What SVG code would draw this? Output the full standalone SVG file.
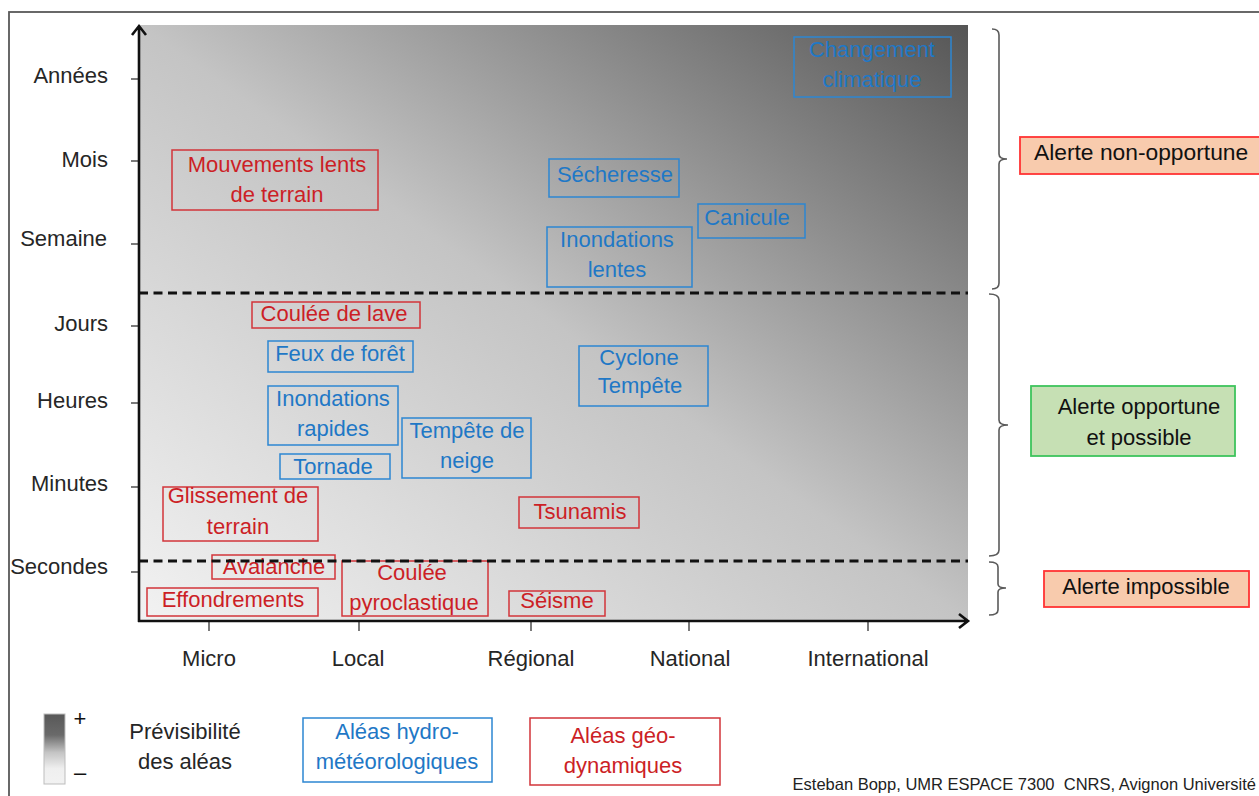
<svg xmlns="http://www.w3.org/2000/svg" width="1259" height="796" viewBox="0 0 1259 796">
<defs>
<linearGradient id="bg" x1="0" y1="1" x2="1" y2="0">
<stop offset="0" stop-color="#f2f2f2"/>
<stop offset="0.5" stop-color="#c4c4c4"/>
<stop offset="1" stop-color="#555555"/>
</linearGradient>
<linearGradient id="leg" x1="0" y1="0" x2="0" y2="1">
<stop offset="0" stop-color="#585858"/>
<stop offset="0.3" stop-color="#6a6a6a"/>
<stop offset="0.55" stop-color="#c4c4c4"/>
<stop offset="0.78" stop-color="#efefef"/>
<stop offset="1" stop-color="#f2f2f2"/>
</linearGradient>
<style>
text{font-family:"Liberation Sans",Arial,sans-serif;font-size:22px;fill:#262626}
.c{text-anchor:middle}
.e{text-anchor:end}
.geo rect{fill:none;stroke:#d2343a;stroke-width:1.5}
.geo text{fill:#cc1f26;text-anchor:middle}
.hyd rect{fill:none;stroke:#2c86d2;stroke-width:1.5}
.hyd text{fill:#1f78c6;text-anchor:middle}
.tick{stroke:#333;stroke-width:1.3}
.axis{stroke:#111;stroke-width:2.6;fill:none}
.dash{stroke:#111;stroke-width:3;stroke-dasharray:9 5.5}
.brace{fill:none;stroke:#5a5a5a;stroke-width:1.6}
.alr rect{fill:#f8cbad;stroke:#ff3333;stroke-width:1.8}
.alg rect{fill:#c6e0b4;stroke:#3ec45c;stroke-width:1.8}
.alr text,.alg text{fill:#111;text-anchor:middle}
</style>
</defs>
<rect x="0" y="0" width="1259" height="796" fill="#fff"/>
<rect x="9" y="12" width="1300" height="820" fill="none" stroke="#595959" stroke-width="1.8"/>
<rect id="plot" x="140" y="25" width="828" height="596" fill="url(#bg)"/>

<g id="axes">
<g class="tick">
<line x1="131" y1="79" x2="139" y2="79"/><line x1="131" y1="161" x2="139" y2="161"/><line x1="131" y1="244" x2="139" y2="244"/><line x1="131" y1="326" x2="139" y2="326"/><line x1="131" y1="403" x2="139" y2="403"/><line x1="131" y1="487" x2="139" y2="487"/><line x1="131" y1="572" x2="139" y2="572"/>
<line x1="209" y1="621" x2="209" y2="631"/><line x1="359" y1="621" x2="359" y2="631"/><line x1="531" y1="621" x2="531" y2="631"/><line x1="689" y1="621" x2="689" y2="631"/><line x1="868" y1="621" x2="868" y2="631"/>
</g>
<path class="axis" d="M139,622 L139,27 M132,35 L139,26 L146,35"/>
<path class="axis" d="M138,621 L967,621 M959,614 L968,621 L959,628"/>
<g class="e">
<text x="108" y="83">Années</text>
<text x="108" y="167">Mois</text>
<text x="107" y="246">Semaine</text>
<text x="108" y="331">Jours</text>
<text x="108" y="408">Heures</text>
<text x="108" y="491">Minutes</text>
<text x="108" y="574">Secondes</text>
</g>
<g class="c">
<text x="209" y="666">Micro</text>
<text x="358" y="666">Local</text>
<text x="531" y="666">Régional</text>
<text x="690" y="666">National</text>
<text x="868" y="666">International</text>
</g>
</g>

<g id="n-mouvements" class="geo"><rect x="172" y="150" width="206" height="60"/><text x="277" y="172">Mouvements lents</text><text x="277" y="202">de terrain</text></g>
<g id="n-secheresse" class="hyd"><rect x="549" y="159" width="130" height="38"/><text x="615" y="182">Sécheresse</text></g>
<g id="n-canicule" class="hyd"><rect x="698" y="204" width="107" height="34"/><text x="747" y="225">Canicule</text></g>
<g id="n-inond-lentes" class="hyd"><rect x="547" y="227" width="145" height="60"/><text x="617" y="247">Inondations</text><text x="617" y="277">lentes</text></g>
<g id="n-changement" class="hyd"><rect x="794" y="37" width="157" height="60"/><text x="872" y="57">Changement</text><text x="872" y="87">climatique</text></g>
<g id="n-lave" class="geo"><rect x="252" y="302" width="168" height="26"/><text x="334" y="321">Coulée de lave</text></g>
<g id="n-feux" class="hyd"><rect x="268" y="341" width="145" height="31"/><text x="340" y="361">Feux de forêt</text></g>
<g id="n-inond-rapides" class="hyd"><rect x="268" y="386" width="130" height="59"/><text x="333" y="406">Inondations</text><text x="333" y="436">rapides</text></g>
<g id="n-tornade" class="hyd"><rect x="280" y="454" width="110" height="25"/><text x="333" y="474">Tornade</text></g>
<g id="n-tempete-neige" class="hyd"><rect x="402" y="418" width="129" height="60"/><text x="467" y="438">Tempête de</text><text x="467" y="468">neige</text></g>
<g id="n-cyclone" class="hyd"><rect x="579" y="346" width="129" height="60"/><text x="639" y="365">Cyclone</text><text x="640" y="393">Tempête</text></g>
<g id="n-glissement" class="geo"><rect x="163" y="487" width="155" height="54"/><text x="238" y="503">Glissement de</text><text x="238" y="534">terrain</text></g>
<g id="n-tsunamis" class="geo"><rect x="519" y="497" width="120" height="31"/><text x="580" y="519">Tsunamis</text></g>
<g id="n-avalanche" class="geo"><rect x="212" y="555" width="123" height="24"/><text x="274" y="574">Avalanche</text></g>
<g id="n-effondrements" class="geo"><rect x="147" y="588" width="171" height="28"/><text x="233" y="607">Effondrements</text></g>
<g id="n-pyroclastique" class="geo"><rect x="342" y="561" width="146" height="55"/><text x="412" y="580">Coulée</text><text x="414" y="610">pyroclastique</text></g>
<g id="n-seisme" class="geo"><rect x="509" y="591" width="96" height="25"/><text x="557" y="608">Séisme</text></g>

<g id="thresholds">
<line class="dash" x1="139" y1="293" x2="968" y2="293"/>
<line class="dash" x1="139" y1="561" x2="968" y2="561"/>
</g>

<g id="connectors">
<path class="brace" d="M992,29 Q999,29 999,35 L999,154 Q999,159 1007,159 Q999,159 999,164 L999,283 Q999,289 992,289"/>
<path class="brace" d="M989,294 Q999,294 999,300 L999,420 Q999,425 1008,425 Q999,425 999,430 L999,550 Q999,556 989,556"/>
<path class="brace" d="M989,562 Q998,562 998,567 L998,584 Q998,588 1006,588 Q998,588 998,592 L998,610 Q998,615 989,615"/>
</g>

<g id="a-non-opportune" class="alr"><rect x="1020" y="137" width="260" height="37"/><text x="1034" y="160" style="text-anchor:start;font-size:22.8px">Alerte non-opportune</text></g>
<g id="a-opportune" class="alg"><rect x="1031" y="386" width="204" height="70"/><text x="1139" y="414">Alerte opportune</text><text x="1139" y="445">et possible</text></g>
<g id="a-impossible" class="alr"><rect x="1044" y="571" width="205" height="36"/><text x="1146" y="594">Alerte impossible</text></g>

<g id="legend">
<rect x="44" y="714" width="21" height="70" fill="url(#leg)" stroke="#bdbdbd" stroke-width="1"/>
<text x="80" y="726" class="c" style="fill:#111">+</text>
<text x="80" y="780" class="c" style="fill:#111">–</text>
<text x="185" y="739" class="c">Prévisibilité</text>
<text x="185" y="769" class="c">des aléas</text>
<g id="leg-hydro" class="hyd"><rect x="303" y="718" width="189" height="64"/><text x="397" y="739">Aléas hydro-</text><text x="397" y="769">météorologiques</text></g>
<g id="leg-geo" class="geo"><rect x="530" y="718" width="190" height="67"/><text x="623" y="743">Aléas géo-</text><text x="623" y="773">dynamiques</text></g>
<text x="1256" y="790" class="e" xml:space="preserve" style="font-size:16.5px;fill:#222;white-space:pre">Esteban Bopp, UMR ESPACE 7300  CNRS, Avignon Université</text>
</g>
</svg>
